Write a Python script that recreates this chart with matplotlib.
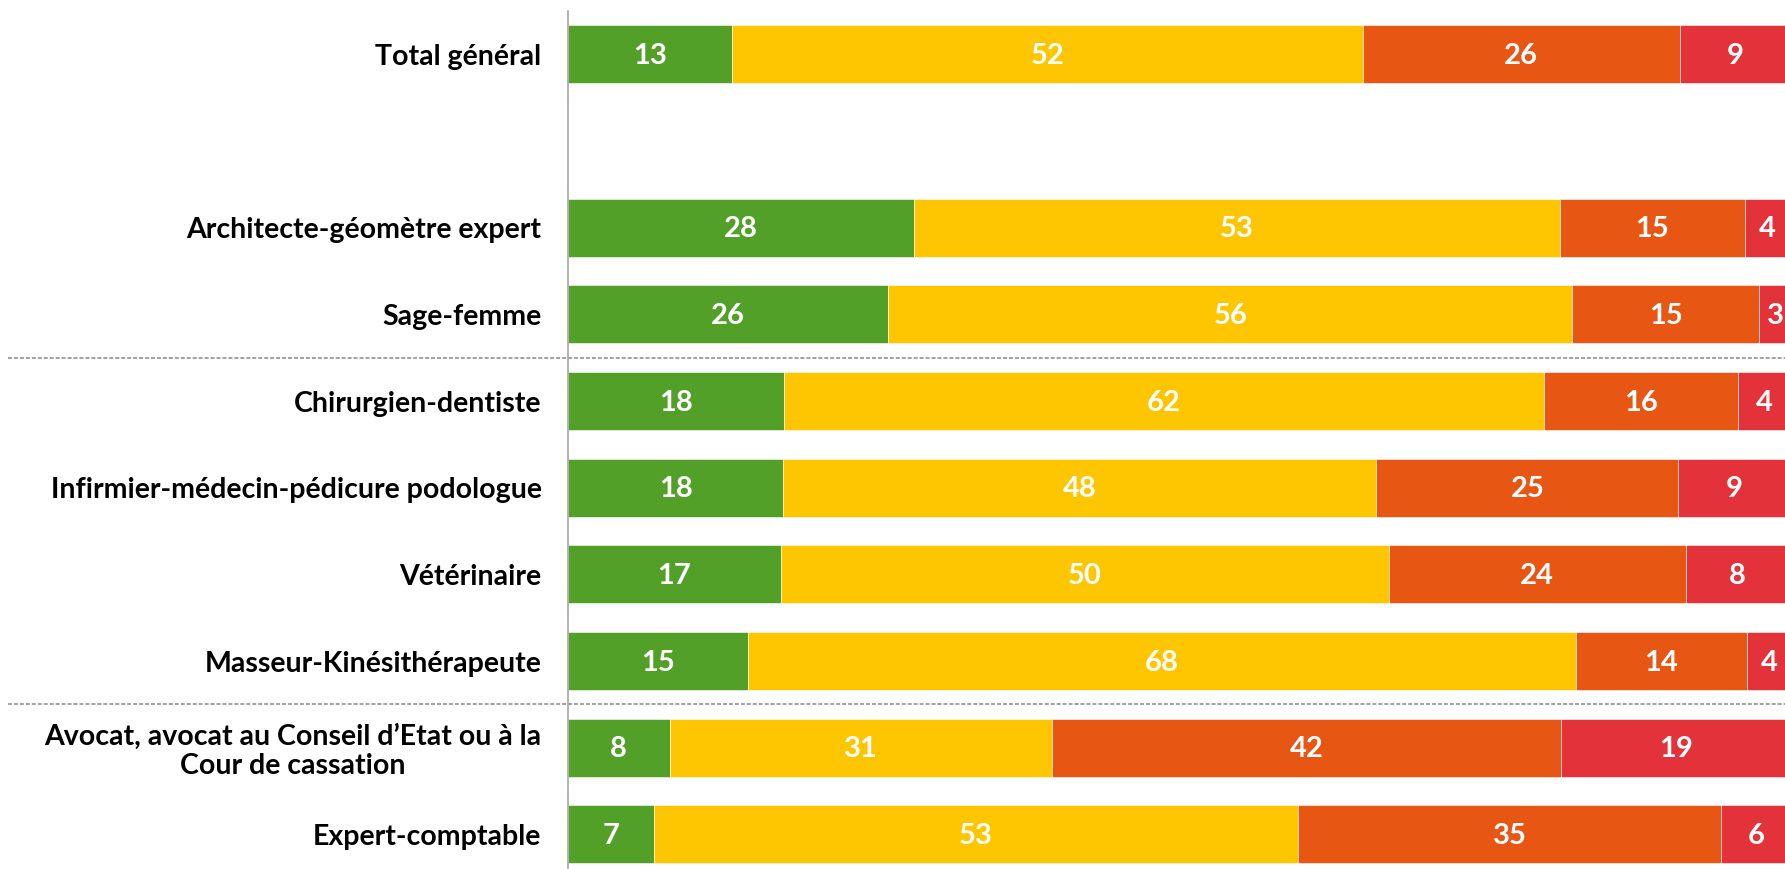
import numpy as np
import matplotlib.pyplot as plt
from matplotlib.transforms import blended_transform_factory

# data (share of answers, %)
categories = ["Total général",
              "Architecte-géomètre expert",
              "Sage-femme",
              "Chirurgien-dentiste",
              "Infirmier-médecin-pédicure podologue",
              "Vétérinaire",
              "Masseur-Kinésithérapeute",
              "Avocat, avocat au Conseil d’Etat ou à la\nCour de cassation",
              "Expert-comptable"]
green = [13.4, 28.3, 26.2, 17.7, 17.6, 17.4, 14.7, 8.3, 7.0]
yellow = [51.6, 52.8, 55.9, 62.1, 48.5, 49.7, 67.7, 31.3, 52.7]
orange = [25.9, 15.1, 15.3, 15.9, 24.7, 24.3, 14.0, 41.6, 34.6]
red = [9.1, 3.8, 2.6, 4.3, 9.2, 8.4, 3.6, 18.8, 5.7]

colors = ["#52A028", "#FDC600", "#E85614", "#E4323A"]

plt.rcParams['font.family'] = ['Lato', 'DejaVu Sans']

fig = plt.figure(figsize=(17.85, 8.69), dpi=100)
# axes runs a little past the right edge (chart is cropped there)
ax = fig.add_axes([568 / 1785, 0, 1223 / 1785, 858 / 869])

# one blank slot after the total row
ypos = np.array([0] + list(range(2, len(categories) + 1)))

left = np.zeros(len(categories))
for vals, col in zip([green, yellow, orange, red], colors):
    vals = np.array(vals)
    ax.barh(ypos, vals, left=left, height=0.67, color=col,
            edgecolor="white", linewidth=0.4)
    for y, l, v in zip(ypos, left, vals):
        ax.text(l + v / 2, y + 0.02, f"{v:.0f}", ha="center", va="center",
                color="white", fontsize=21, fontweight="bold")
    left += vals

ax.set_xlim(0, 100)
ax.set_ylim(ypos[-1] + 0.4, -0.5)

ax.set_yticks(ypos)
ax.set_yticklabels(categories, fontsize=20.5, fontweight="bold", color="black",
                   linespacing=1.15)
for lbl in ax.get_yticklabels():
    lbl.set_multialignment("center")
ax.tick_params(axis="y", length=0, pad=19)
ax.set_xticks([])

for s in ["top", "right", "bottom"]:
    ax.spines[s].set_visible(False)
ax.spines["left"].set_color("#A6A6A6")
ax.spines["left"].set_linewidth(1.2)

# dashed separators between groups of professions
trans = blended_transform_factory(fig.transFigure, ax.transData)
for i in [2, 6]:
    ysep = (ypos[i] + ypos[i + 1]) / 2
    ax.plot([8 / 1785, 1], [ysep, ysep], transform=trans, color="#999999",
            lw=1.3, linestyle=(0, (2.2, 1.1)), clip_on=False)

fig.savefig("out.png", dpi=100)
